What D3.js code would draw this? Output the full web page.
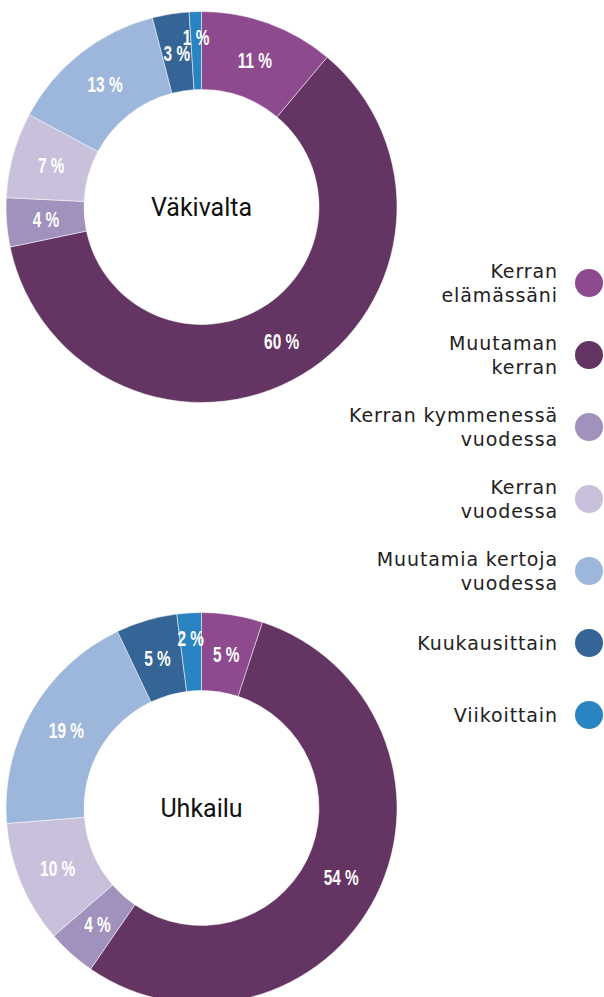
<!DOCTYPE html>
<html>
<head>
<meta charset="utf-8">
<script src="https://cdn.jsdelivr.net/npm/d3@7"></script>
<style>
  body { margin: 0; background: #fff; }
  svg { display: block; }
</style>
</head>
<body>
<svg width="604" height="997"></svg>
<script>
// categories (legend order = slice order, clockwise from 12 o'clock)
let categories = [
    "Kerran\nelämässäni",
    "Muutaman\nkerran",
    "Kerran kymmenessä\nvuodessa",
    "Kerran\nvuodessa",
    "Muutamia kertoja\nvuodessa",
    "Kuukausittain",
    "Viikoittain"
];
let colors = ["#8e4a8f", "#643463", "#a192bd", "#c9c0dc", "#9db6db", "#356496", "#2a84c1"];

let vakivaltaValues = [11, 60, 4, 7, 13, 3, 1];
let uhkailuValues = [5, 54, 4, 10, 19, 5, 2];

let charts = [
    { title: "Väkivalta", values: vakivaltaValues, cy: 207 },
    { title: "Uhkailu", values: uhkailuValues, cy: 808 }
];

let svg = d3.select("svg"),
    cx = 201.5,
    outerR = 195.5,
    innerR = 117.5;

let pie = d3.pie().sort(null).value(function (d) { return d; });
let arc = d3.arc().innerRadius(innerR).outerRadius(outerR);
let labelArc = d3.arc().innerRadius(156).outerRadius(156);
let smallLabelArc = d3.arc().innerRadius(170).outerRadius(170);

charts.forEach(function (c) {
    let g = svg.append("g")
        .attr("transform", "translate(" + cx + "," + c.cy + ")");

    let arcs = pie(c.values);

    g.selectAll(".slice")
        .data(arcs)
        .enter().append("path")
        .attr("class", "slice")
        .attr("d", arc)
        .attr("fill", function (d, i) { return colors[i]; })
        .attr("stroke", "#fff")
        .attr("stroke-width", 0.5);

    // condensed bold look: squeeze a bold face horizontally
    g.selectAll(".pct")
        .data(arcs)
        .enter().append("text")
        .attr("class", "pct")
        .attr("transform", function (d) {
            let p = (d.data <= 2 ? smallLabelArc : labelArc).centroid(d);
            return "translate(" + p[0] + "," + p[1] + ") scale(0.7,1)";
        })
        .attr("text-anchor", "middle")
        .attr("dy", "0.36em")
        .style("font-family", "'Liberation Sans', Arial, sans-serif")
        .style("font-weight", "bold")
        .style("font-size", "22px")
        .attr("fill", "#fff")
        .text(function (d) { return d.data + " %"; });

    g.append("text")
        .attr("text-anchor", "middle")
        .attr("dy", "0.36em")
        .style("font-family", "Roboto, sans-serif")
        .style("font-size", "25px")
        .attr("fill", "#111")
        .text(c.title);
});

// legend
let legendX = 589,
    legendTop = 283,
    legendStep = 72,
    lineH = 23.5;

let legend = svg.append("g");

let items = legend.selectAll(".item")
    .data(categories)
    .enter().append("g")
    .attr("class", "item")
    .attr("transform", function (d, i) { return "translate(" + legendX + "," + (legendTop + i * legendStep) + ")"; });

items.append("circle")
    .attr("r", 14)
    .attr("fill", function (d, i) { return colors[i]; });

items.each(function (d) {
    let lines = d.split("\n");
    let top = -(14 + (lines.length - 1) * lineH) / 2;
    let t = d3.select(this).append("text")
        .attr("text-anchor", "end")
        .style("font-family", "'DejaVu Sans', sans-serif")
        .style("font-size", "19px")
        .style("letter-spacing", "0.9px")
        .attr("fill", "#222");
    lines.forEach(function (line, j) {
        t.append("tspan")
            .attr("x", -31)
            .attr("y", top + 14 + j * lineH)
            .text(line);
    });
});
</script>
</body>
</html>
